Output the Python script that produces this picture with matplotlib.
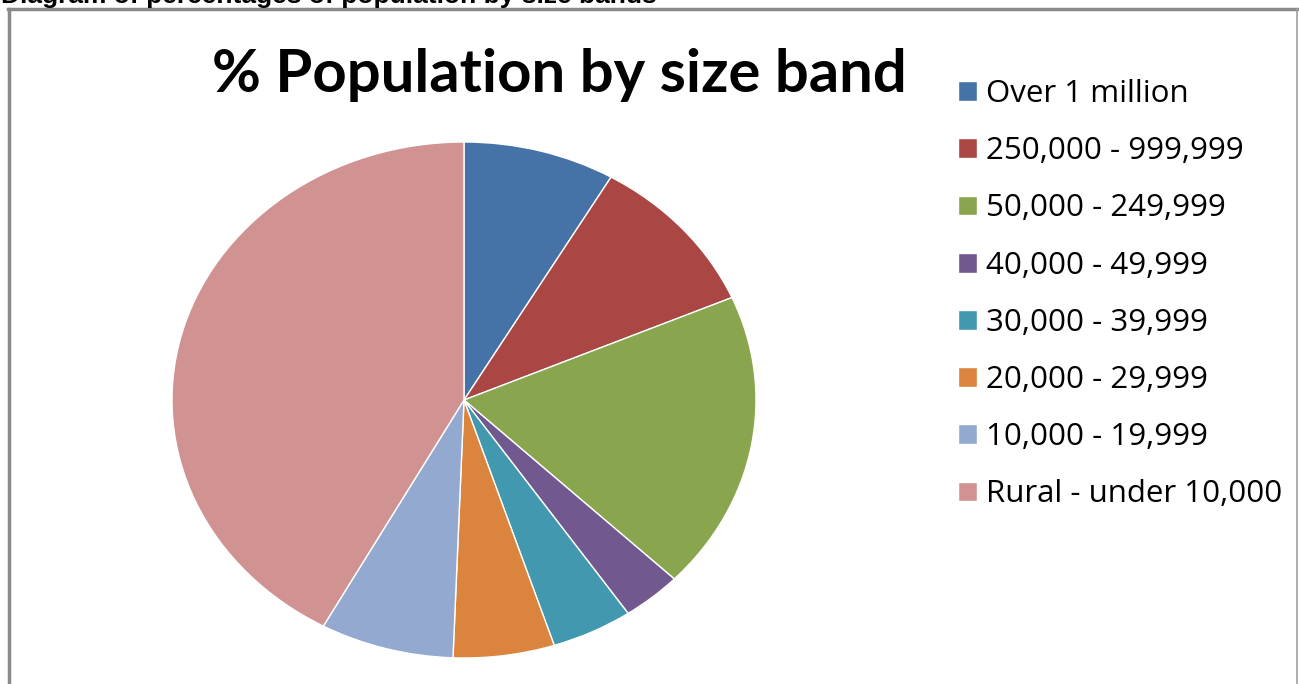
import matplotlib.pyplot as plt
from matplotlib.lines import Line2D

# Data
bands = ['Over 1 million', '250,000 - 999,999', '50,000 - 249,999',
         '40,000 - 49,999', '30,000 - 39,999', '20,000 - 29,999',
         '10,000 - 19,999', 'Rural - under 10,000']
shares = [8.4, 10.1, 18.7, 3.3, 4.5, 5.6, 7.4, 42.0]
colors = ['#4572A7', '#AA4643', '#89A54E', '#71588F',
          '#4198AF', '#DB843D', '#93A9CF', '#D19392']

W, H = 1299, 684
fig = plt.figure(figsize=(W / 100, H / 100), dpi=100)
fig.patch.set_facecolor('white')

# pie area (stretched horizontally as in the reference)
ax = fig.add_axes([172 / W, (H - 658) / H, 584 / W, 516 / H])
wedges, _ = ax.pie(shares, colors=colors, startangle=90, counterclock=False,
                   wedgeprops=dict(edgecolor='white', linewidth=1.0))
ax.set_aspect('auto')
ax.set_xlim(-1, 1)
ax.set_ylim(-1, 1)
ax.axis('off')

fig.text(559 / W, 1 - 92 / H, '% Population by size band', ha='center',
         va='baseline', fontsize=43, fontweight='bold', family='Lato')

fig.legend(wedges, bands, loc='upper left', bbox_to_anchor=(930 / W, 1 - 51 / H),
           frameon=False, handlelength=0.6, handleheight=0.6,
           handletextpad=0.3, labelspacing=0.87,
           prop=dict(family='Open Sans', size=22.5))

# caption cut at the top of the picture
fig.text(1 / W, 1 - 3 / H, 'Diagram of percentages of population by size bands',
         ha='left', va='baseline', fontsize=19, fontweight='bold',
         family='Liberation Sans')

# frame around the chart
fig.add_artist(Line2D([9 / W, 9 / W], [0, 1 - 9 / H], color='#8a8a8a', lw=2.5,
                      transform=fig.transFigure))
fig.add_artist(Line2D([8 / W, 1297 / W], [1 - 9 / H, 1 - 9 / H], color='#8a8a8a',
                      lw=2.5, transform=fig.transFigure))
fig.add_artist(Line2D([1297 / W, 1297 / W], [0, 1 - 9 / H], color='#a0a0a0', lw=1.2,
                      transform=fig.transFigure))

fig.savefig('out.png', dpi=100)
